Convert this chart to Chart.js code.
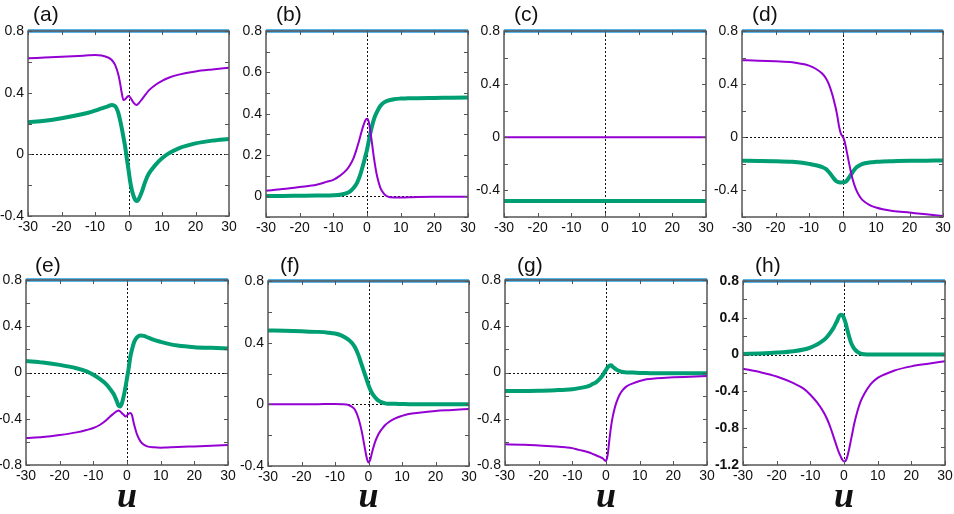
<!DOCTYPE html>
<html>
<head>
<meta charset="utf-8">
<script src="https://cdn.jsdelivr.net/npm/chart.js@4.4.1/dist/chart.umd.min.js"></script>
<style>
  body { margin: 0; background: #fff; width: 954px; height: 514px; position: relative; overflow: hidden;
         font-family: "Liberation Sans", Arial, sans-serif; }
  .panel { position: absolute; }
  .tag { position: absolute; font-size: 21px; line-height: 21px; color: #111; }
  .ulabel { position: absolute; width: 40px; text-align: center; color: #111;
            font-family: "Liberation Serif", "DejaVu Serif", serif; font-style: italic; font-weight: bold;
            font-size: 36px; line-height: 1; }
</style>
</head>
<body>
<script>
// общая сетка по u
const uGrid = [-30, -25, -20, -15, -12, -10, -8, -6, -5, -4, -3, -2.5, -2, -1.5, -1, -0.5, 0,
               0.5, 1, 1.5, 2, 2.5, 3, 4, 5, 6, 8, 10, 12, 15, 20, 25, 30];
const uEnds = [-30, 30];
const blueLevel = [0.8, 0.8];

const uTicks = [-30, -20, -10, 0, 10, 20, 30];

// (a)
const aPurple = [0.623, 0.628, 0.633, 0.638, 0.642, 0.644, 0.641, 0.627, 0.612, 0.58, 0.515, 0.46, 0.396, 0.352, 0.357, 0.37, 0.378,
                 0.37, 0.352, 0.335, 0.324, 0.32, 0.33, 0.357, 0.385, 0.413, 0.45, 0.476, 0.497, 0.517, 0.538, 0.551, 0.562];
const aGreen = [0.208, 0.218, 0.234, 0.255, 0.27, 0.283, 0.298, 0.313, 0.32, 0.313, 0.266, 0.22, 0.169, 0.11, 0.05, -0.026, -0.10,
                -0.177, -0.231, -0.27, -0.296, -0.303, -0.292, -0.242, -0.177, -0.128, -0.07, -0.026, 0.006, 0.039, 0.071, 0.089, 0.10];
// (b)
const bPurple = [0.027, 0.035, 0.045, 0.056, 0.07, 0.08, 0.10, 0.129, 0.153, 0.185, 0.233, 0.26, 0.29, 0.32, 0.346, 0.367, 0.375,
                 0.362, 0.314, 0.255, 0.193, 0.14, 0.097, 0.04, 0.013, 0.0, -0.006, -0.006, -0.005, -0.003, -0.002, -0.002, -0.002];
const bGreen = [0.002, 0.002, 0.003, 0.004, 0.004, 0.005, 0.008, 0.016, 0.024, 0.04, 0.064, 0.083, 0.105, 0.132, 0.161, 0.193, 0.225,
                0.266, 0.306, 0.34, 0.37, 0.392, 0.41, 0.438, 0.454, 0.462, 0.47, 0.473, 0.474, 0.475, 0.476, 0.477, 0.478];
// (c)
const cPurple = [0, 0];
const cGreen = [-0.48, -0.48];
// (d)
const dPurple = [0.58, 0.577, 0.572, 0.565, 0.552, 0.539, 0.516, 0.478, 0.446, 0.395, 0.319, 0.27, 0.218, 0.154, 0.078, 0.028, 0.008,
                 -0.018, -0.073, -0.137, -0.2, -0.26, -0.314, -0.39, -0.44, -0.473, -0.509, -0.529, -0.542, -0.554, -0.567, -0.58, -0.592];
const dGreen = [-0.177, -0.178, -0.18, -0.185, -0.192, -0.2, -0.21, -0.225, -0.238, -0.263, -0.296, -0.313, -0.327, -0.335, -0.339, -0.34, -0.339,
                -0.338, -0.334, -0.32, -0.301, -0.282, -0.263, -0.23, -0.213, -0.2, -0.19, -0.185, -0.182, -0.18, -0.177, -0.176, -0.175];
// (e)
const ePurple = [-0.567, -0.558, -0.541, -0.518, -0.497, -0.48, -0.452, -0.409, -0.38, -0.357, -0.334, -0.328, -0.337, -0.352, -0.366, -0.38, -0.371,
                 -0.357, -0.351, -0.371, -0.437, -0.49, -0.538, -0.596, -0.624, -0.639, -0.647, -0.65, -0.648, -0.645, -0.639, -0.633, -0.628];
const eGreen = [0.10, 0.086, 0.066, 0.037, 0.01, -0.02, -0.058, -0.106, -0.144, -0.184, -0.25, -0.288, -0.294, -0.265, -0.207, -0.135, -0.049,
                0.037, 0.138, 0.2, 0.253, 0.285, 0.305, 0.32, 0.317, 0.305, 0.282, 0.265, 0.25, 0.233, 0.219, 0.213, 0.207];
// (f)
const fPurple = [0, 0, 0.001, 0.001, 0.002, 0.002, 0.001, -0.004, -0.015, -0.037, -0.09, -0.13, -0.177, -0.235, -0.295, -0.349, -0.377,
                 -0.36, -0.317, -0.277, -0.242, -0.215, -0.192, -0.16, -0.134, -0.116, -0.091, -0.075, -0.063, -0.054, -0.043, -0.037, -0.03];
const fGreen = [0.479, 0.477, 0.474, 0.47, 0.465, 0.459, 0.446, 0.42, 0.399, 0.369, 0.319, 0.287, 0.254, 0.222, 0.19, 0.157, 0.125,
                0.097, 0.075, 0.058, 0.045, 0.033, 0.024, 0.013, 0.006, 0.004, 0.003, 0.002, 0.001, 0.001, 0, 0, 0];
// (g)
const gPurple = [-0.62, -0.625, -0.631, -0.64, -0.647, -0.654, -0.669, -0.683, -0.692, -0.704, -0.716, -0.722, -0.728, -0.735, -0.742, -0.757, -0.765,
                 -0.713, -0.583, -0.468, -0.382, -0.318, -0.267, -0.195, -0.151, -0.122, -0.094, -0.074, -0.059, -0.05, -0.042, -0.036, -0.03];
const gGreen = [-0.161, -0.16, -0.158, -0.153, -0.149, -0.144, -0.135, -0.124, -0.115, -0.1, -0.085, -0.073, -0.059, -0.042, -0.024, 0, 0.022,
                0.045, 0.059, 0.062, 0.05, 0.038, 0.027, 0.013, 0.004, 0.001, -0.001, -0.004, -0.005, -0.007, -0.007, -0.007, -0.007];
// (h)
const hPurple = [-0.154, -0.19, -0.238, -0.311, -0.37, -0.436, -0.52, -0.63, -0.703, -0.795, -0.905, -0.96, -1.015, -1.065, -1.106, -1.143, -1.161,
                 -1.154, -1.106, -1.03, -0.941, -0.85, -0.758, -0.612, -0.502, -0.429, -0.319, -0.253, -0.216, -0.172, -0.128, -0.099, -0.073];
const hGreen = [0.007, 0.013, 0.022, 0.037, 0.055, 0.077, 0.11, 0.158, 0.194, 0.242, 0.297, 0.335, 0.37, 0.414, 0.432, 0.429, 0.396,
                0.341, 0.267, 0.2, 0.139, 0.097, 0.066, 0.029, 0.011, 0.004, 0, 0, 0, 0, 0, 0, 0];

// деления по y
const yTicks04 = [-0.4, -0.2, 0, 0.2, 0.4, 0.6, 0.8];
const yTicks01 = [-0.1, 0, 0.1, 0.2, 0.3, 0.4, 0.5, 0.6, 0.7, 0.8];
const yTicks06 = [-0.6, -0.4, -0.2, 0, 0.2, 0.4, 0.6, 0.8];
const yTicks08 = [-0.8, -0.6, -0.4, -0.2, 0, 0.2, 0.4, 0.6, 0.8];
const yTicks12 = [-1.2, -1.0, -0.8, -0.6, -0.4, -0.2, 0, 0.2, 0.4, 0.6, 0.8];
const yLabels4 = [-1.2, -0.8, -0.4, 0, 0.4, 0.8];
const yLabels2 = [0, 0.2, 0.4, 0.6, 0.8];

const PURPLE = '#9400d3';
const GREEN = '#009e73';
const BLUE = '#56b4e9';
const YW = 38, XH = 24, PAD_T = 14, PAD_R = 14;

// панели: подпись, рамка графика (l, t, r, b), данные
const panels = [
    { tag: '(a)', tagX: 33, tagY: 3, box: [28, 31, 229, 216], u: uGrid, purple: aPurple, green: aGreen, yMin: -0.4, yTicks: yTicks04, yLabels: yLabels4 },
    { tag: '(b)', tagX: 276, tagY: 3, box: [266, 31, 468, 217], u: uGrid, purple: bPurple, green: bGreen, yMin: -0.1, yTicks: yTicks01, yLabels: yLabels2 },
    { tag: '(c)', tagX: 514, tagY: 3, box: [504, 31, 706, 217], u: uEnds, purple: cPurple, green: cGreen, yMin: -0.6, yTicks: yTicks06, yLabels: yLabels4 },
    { tag: '(d)', tagX: 752, tagY: 3, box: [742, 31, 943, 217], u: uGrid, purple: dPurple, green: dGreen, yMin: -0.6, yTicks: yTicks06, yLabels: yLabels4 },
    { tag: '(e)', tagX: 35, tagY: 254, box: [26, 280, 228, 465], u: uGrid, purple: ePurple, green: eGreen, yMin: -0.8, yTicks: yTicks08, yLabels: yLabels4, uLabel: true },
    { tag: '(f)', tagX: 280, tagY: 254, box: [268, 281, 469, 466], u: uGrid, purple: fPurple, green: fGreen, yMin: -0.4, yTicks: yTicks04, yLabels: yLabels4, uLabel: true },
    { tag: '(g)', tagX: 517, tagY: 254, box: [505, 280, 707, 465], u: uGrid, purple: gPurple, green: gGreen, yMin: -0.8, yTicks: yTicks08, yLabels: yLabels4, uLabel: true },
    { tag: '(h)', tagX: 755, tagY: 254, box: [743, 281, 945, 465], u: uGrid, purple: hPurple, green: hGreen, yMin: -1.2, yTicks: yTicks12, yLabels: yLabels4, uLabel: true, bold: true }
];

function toPoints(xs, ys) {
    return xs.map((x, i) => ({ x: x, y: ys[i] }));
}

function fmt(v) {
    return String(parseFloat(v.toFixed(2)));
}

const framePlugin = {
    id: 'frame',
    beforeDatasetsDraw(chart) {
        const { ctx, chartArea: a, scales: { x, y } } = chart;
        const x0 = Math.round(x.getPixelForValue(0)) + 0.5;
        const y0 = Math.round(y.getPixelForValue(0)) + 0.5;
        ctx.save();
        ctx.strokeStyle = '#111';
        ctx.lineWidth = 1;
        ctx.setLineDash([2, 2]);
        ctx.beginPath();
        ctx.moveTo(x0, a.top);
        ctx.lineTo(x0, a.bottom);
        ctx.moveTo(a.left, y0);
        ctx.lineTo(a.right, y0);
        ctx.stroke();
        ctx.restore();
    },
    afterDatasetsDraw(chart) {
        const { ctx, chartArea: a, scales: { x, y } } = chart;
        ctx.save();
        ctx.strokeStyle = '#555';
        ctx.lineWidth = 1.5;
        ctx.strokeRect(a.left, a.top, a.right - a.left, a.bottom - a.top);
        ctx.lineWidth = 1;
        ctx.beginPath();
        y.ticks.forEach(t => {
            const py = Math.round(y.getPixelForValue(t.value)) + 0.5;
            ctx.moveTo(a.left, py); ctx.lineTo(a.left + 4, py);
            ctx.moveTo(a.right, py); ctx.lineTo(a.right - 4, py);
        });
        x.ticks.forEach(t => {
            const px = Math.round(x.getPixelForValue(t.value)) + 0.5;
            ctx.moveTo(px, a.bottom); ctx.lineTo(px, a.bottom - 4);
            ctx.moveTo(px, a.top); ctx.lineTo(px, a.top + 4);
        });
        ctx.stroke();
        ctx.restore();
    }
};

function drawPanel(p) {
    const [l, t, r, b] = p.box;
    const div = document.createElement('div');
    div.className = 'panel';
    div.style.left = (l - YW) + 'px';
    div.style.top = (t - PAD_T) + 'px';
    div.style.width = (r - l + YW + PAD_R) + 'px';
    div.style.height = (b - t + PAD_T + XH) + 'px';
    const canvas = document.createElement('canvas');
    div.appendChild(canvas);
    document.body.appendChild(div);

    const tag = document.createElement('div');
    tag.className = 'tag';
    tag.textContent = p.tag;
    tag.style.left = p.tagX + 'px';
    tag.style.top = p.tagY + 'px';
    document.body.appendChild(tag);

    if (p.uLabel) {
        const u = document.createElement('div');
        u.className = 'ulabel';
        u.textContent = 'u';
        u.style.left = ((l + r) / 2 - 20) + 'px';
        u.style.top = '477px';
        document.body.appendChild(u);
    }

    const tickFont = { family: '"Liberation Sans", Arial, sans-serif', size: 14 };

    new Chart(canvas, {
        type: 'line',
        data: {
            datasets: [
                { data: toPoints(p.u, p.purple), borderColor: PURPLE, borderWidth: 2, pointRadius: 0, cubicInterpolationMode: 'monotone', clip: 8 },
                { data: toPoints(p.u, p.green), borderColor: GREEN, borderWidth: 4, pointRadius: 0, cubicInterpolationMode: 'monotone', clip: 8 },
                { data: toPoints(uEnds, blueLevel), borderColor: BLUE, borderWidth: 4, pointRadius: 0, clip: 8 }
            ]
        },
        options: {
            responsive: true,
            maintainAspectRatio: false,
            animation: false,
            events: [],
            layout: { padding: { top: PAD_T, right: PAD_R, left: 0, bottom: 0 } },
            plugins: { legend: { display: false }, tooltip: { enabled: false } },
            scales: {
                x: {
                    type: 'linear',
                    min: -30,
                    max: 30,
                    afterBuildTicks: (s) => { s.ticks = uTicks.map(v => ({ value: v })); },
                    afterFit: (s) => { s.height = XH; },
                    grid: { display: false, drawTicks: false },
                    border: { display: false },
                    ticks: { autoSkip: false, maxRotation: 0, padding: 3, color: '#111', font: tickFont, callback: (v) => fmt(v) }
                },
                y: {
                    type: 'linear',
                    min: p.yMin,
                    max: 0.8,
                    afterBuildTicks: (s) => { s.ticks = p.yTicks.map(v => ({ value: v })); },
                    afterFit: (s) => { s.width = YW; },
                    grid: { display: false, drawTicks: false },
                    border: { display: false },
                    ticks: {
                        autoSkip: false, padding: 4, color: '#111',
                        font: Object.assign({}, tickFont, p.bold ? { weight: 'bold' } : {}),
                        callback: (v) => p.yLabels.includes(v) ? fmt(v) : ''
                    }
                }
            }
        },
        plugins: [framePlugin]
    });
}

panels.forEach(drawPanel);
</script>
</body>
</html>
